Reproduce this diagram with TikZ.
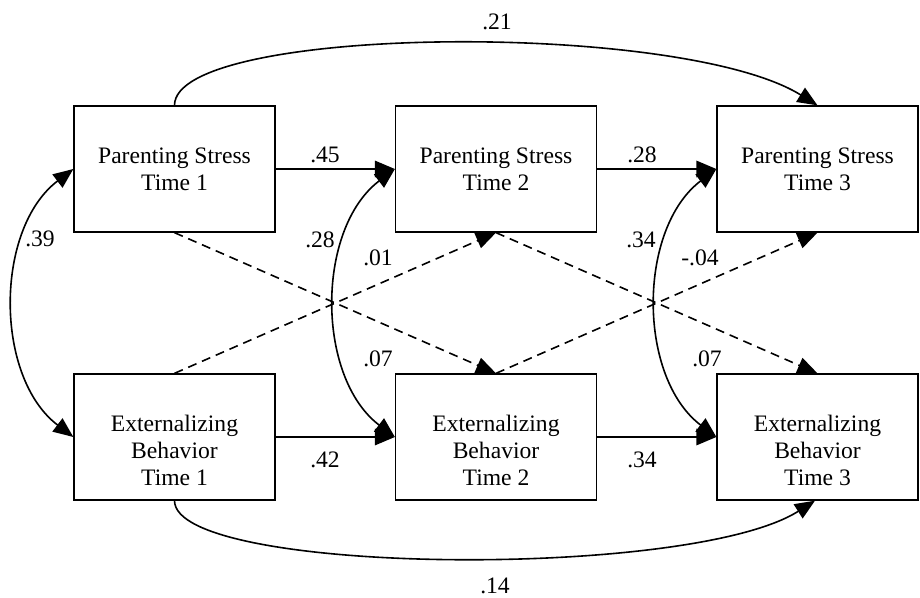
\documentclass[tikz,border=0pt]{standalone}
\usepackage{fontspec}
\setmainfont{Liberation Serif}
\usetikzlibrary{arrows.meta}
\begin{document}
\begin{tikzpicture}[x=1bp,y=-1bp,
  every node/.style={font=\fontsize{23.6bp}{26.8bp}\selectfont},
  varbox/.style={draw, line width=1.3bp, minimum width=201bp, minimum height=126bp, inner sep=0pt, fill=white},
  boxtext/.style={anchor=north, align=center, inner sep=0pt},
  coef/.style={inner sep=0pt},
  path/.style={line width=1.6bp, -{Triangle[length=20bp,width=16.5bp]}},
  dpath/.style={line width=1.6bp, -{Triangle[length=20bp,width=16bp]}, dash pattern=on 9bp off 6bp},
  corr/.style={line width=1.6bp, {Triangle[length=20bp,width=16.5bp]}-{Triangle[length=20bp,width=16.5bp]}}]
\useasboundingbox (0,0) rectangle (920,598);
% boxes
\node[varbox] (ps1) at (174.5,169) {};
\node[varbox] (ps2) at (496,169) {};
\node[varbox] (ps3) at (817.5,169) {};
\node[varbox] (eb1) at (174.5,437) {};
\node[varbox] (eb2) at (496,437) {};
\node[varbox] (eb3) at (817.5,437) {};
\node[boxtext] (ps1t) at (174.5,148) {Parenting Stress\\Time 1};
\node[boxtext] (ps2t) at (496,148) {Parenting Stress\\Time 2};
\node[boxtext] (ps3t) at (817.5,148) {Parenting Stress\\Time 3};
\node[boxtext] (eb1t) at (174.5,415) {Externalizing\\Behavior\\Time 1};
\node[boxtext] (eb2t) at (496,415) {Externalizing\\Behavior\\Time 2};
\node[boxtext] (eb3t) at (817.5,415) {Externalizing\\Behavior\\Time 3};
% autoregressive paths
\draw[path] (ps1.east) -- (ps2.west);
\draw[path] (ps2.east) -- (ps3.west);
\draw[path] (eb1.east) -- (eb2.west);
\draw[path] (eb2.east) -- (eb3.west);
% cross-lagged paths
\draw[dpath] (ps1.south) -- (eb2.north);
\draw[dpath] (eb1.north) -- (ps2.south);
\draw[dpath] (ps2.south) -- (eb3.north);
\draw[dpath] (eb2.north) -- (ps3.south);
% correlations
\draw[corr] (ps1.west) .. controls +(-79,60) and +(-79,-60) .. (eb1.west);
\draw[corr] (ps2.west) .. controls +(-79,60) and +(-79,-60) .. (eb2.west);
\draw[corr] (ps3.west) .. controls +(-79,60) and +(-79,-60) .. (eb3.west);
% long paths
\draw[path] (ps1.north) .. controls (174.5,25) and (680,20) .. (ps3.north);
\draw[path] (eb1.south) .. controls (174.5,575) and (690,580) .. ([xshift=-2.5bp]eb3.south);
% coefficients
\node[coef] (c21) at (497,22) {.21};
\node[coef] (c45) at (325,155) {.45};
\node[coef] (c28a) at (642,155) {.28};
\node[coef] (c39) at (40,239) {.39};
\node[coef] (c28b) at (320,240) {.28};
\node[coef] (c01) at (378,258) {.01};
\node[coef] (c07a) at (378,359) {.07};
\node[coef] (c34a) at (641,240) {.34};
\node[coef] (c04) at (700,258) {-.04};
\node[coef] (c07b) at (707,359) {.07};
\node[coef] (c42) at (325,460) {.42};
\node[coef] (c34b) at (642,460) {.34};
\node[coef] (c14) at (495,586) {.14};
\end{tikzpicture}
\end{document}
